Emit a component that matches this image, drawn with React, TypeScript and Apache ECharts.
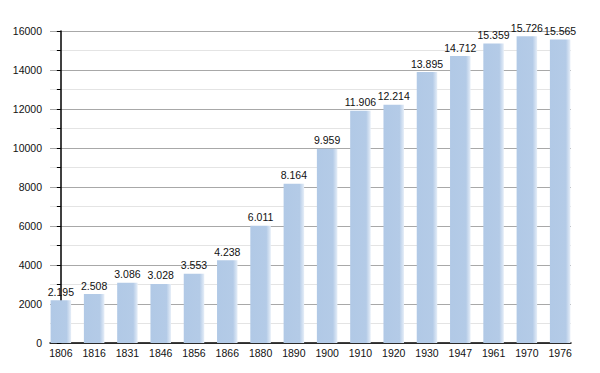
import React, { useEffect, useRef } from "react";
import * as echarts from "echarts";

const years = ["1806", "1816", "1831", "1846", "1856", "1866", "1880", "1890", "1900", "1910", "1920", "1930", "1947", "1961", "1970", "1976"];
const population = [2195, 2508, 3086, 3028, 3553, 4238, 6011, 8164, 9959, 11906, 12214, 13895, 14712, 15359, 15726, 15565];
const yTicks = [0, 2000, 4000, 6000, 8000, 10000, 12000, 14000, 16000];

export default function App() {
  const ref = useRef<HTMLDivElement>(null);
  useEffect(() => {
    if (!ref.current) return;
    const chart = echarts.init(ref.current, null, { renderer: "svg" });
    const font = "'Liberation Sans', Arial, sans-serif";
    chart.setOption({
      animation: false,
      backgroundColor: "#ffffff",
      grid: { left: 50, right: 29, top: 31, bottom: 30, containLabel: false },
      xAxis: {
        type: "value",
        min: -0.326,
        max: 15.326,
        axisLine: { show: true, onZero: false, lineStyle: { color: "#000", width: 1.5 } },
        axisTick: { show: false },
        splitLine: { show: false },
        axisLabel: {
          customValues: years.map((_, i) => i),
          formatter: (v: number) => years[Math.round(v)] ?? "",
          color: "#111",
          fontFamily: font,
          fontSize: 10.5,
          margin: 4,
        },
      },
      yAxis: {
        type: "value",
        min: 0,
        max: 16000,
        interval: 1000,
        axisLine: { show: true, lineStyle: { color: "#000", width: 1.5 } },
        axisTick: { show: true, length: 4, lineStyle: { color: "#000" } },
        splitLine: { show: true, lineStyle: { color: ["#a8a8a8", "#e4e4e4"], width: 1 } },
        axisLabel: {
          formatter: (v: number) => (yTicks.includes(v) ? String(v) : ""),
          color: "#111",
          fontFamily: font,
          fontSize: 10.5,
          margin: 8,
        },
      },
      series: [
        {
          type: "bar",
          barWidth: 20.5,
          data: population.map((v, i) => [i, v]),
          itemStyle: {
            color: new echarts.graphic.LinearGradient(0, 0, 1, 0, [
              { offset: 0, color: "#b1c9e6" },
              { offset: 0.78, color: "#b4cbe7" },
              { offset: 1, color: "#e6eef8" },
            ]),
          },
          label: {
            show: true,
            position: "top",
            distance: 3,
            color: "#111",
            fontFamily: font,
            fontSize: 10.5,
            formatter: (p: any) => (p.value[1] / 1000).toFixed(3),
          },
        },
      ],
    });
    return () => chart.dispose();
  }, []);
  return <div ref={ref} style={{ width: 600, height: 373, position: "absolute", left: 0, top: 0 }} />;
}
